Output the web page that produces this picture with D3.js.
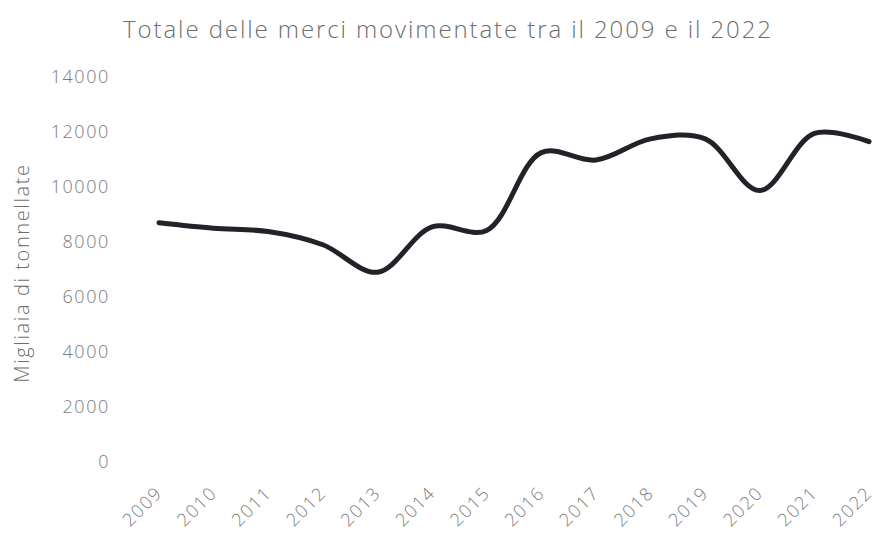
<!DOCTYPE html>
<html>
<head>
<meta charset="utf-8">
<script src="https://cdn.jsdelivr.net/npm/d3@7"></script>
<style>
  html, body { margin: 0; padding: 0; background: #fff; }
  svg { display: block; font-family: "Open Sans", "Noto Sans", sans-serif; }
</style>
</head>
<body>
<svg id="chart" width="877" height="539"></svg>
<script>
// Goods handled per year (thousands of tonnes)
const years = ["2009", "2010", "2011", "2012", "2013", "2014", "2015",
               "2016", "2017", "2018", "2019", "2020", "2021", "2022"];
const tonnes = [8700, 8500, 8380, 7900, 6900, 8550, 8420,
                11250, 10980, 11750, 11750, 9870, 11950, 11650];
const yTicks = [0, 2000, 4000, 6000, 8000, 10000, 12000, 14000];

const titleText = "Totale delle merci movimentate tra il 2009 e il 2022";
const yLabelText = "Migliaia di tonnellate";

const svg = d3.select("#chart");

const x = d3.scalePoint().domain(years).range([159, 869]);
const y = d3.scaleLinear().domain([0, 14000]).range([462, 77]);

// Title
svg.append("text")
  .attr("x", 448).attr("y", 38)
  .attr("text-anchor", "middle")
  .attr("font-size", 24).attr("font-weight", 300)
  .attr("letter-spacing", 1.9)
  .attr("fill", "#6e6e6e")
  .text(titleText);

// Y axis (labels only)
const yAxis = svg.append("g")
  .attr("transform", "translate(110,0)")
  .call(d3.axisLeft(y).tickValues(yTicks).tickSize(0).tickPadding(0).tickFormat(d3.format("d")));
yAxis.select(".domain").remove();
yAxis.selectAll("text")
  .attr("font-size", 18).attr("font-weight", 300)
  .attr("letter-spacing", 1.6)
  .attr("fill", "#7c7c7c")
  .attr("font-family", "'Open Sans', sans-serif");

// Y axis title
svg.append("text")
  .attr("transform", "translate(29,273) rotate(-90)")
  .attr("text-anchor", "middle")
  .attr("font-size", 20).attr("font-weight", 300)
  .attr("letter-spacing", 1.6)
  .attr("fill", "#6e6e6e")
  .text(yLabelText);

// X axis (rotated year labels)
const xAxis = svg.append("g")
  .attr("transform", "translate(0,494)")
  .call(d3.axisBottom(x).tickSize(0).tickPadding(0));
xAxis.select(".domain").remove();
xAxis.selectAll("text")
  .attr("font-size", 18).attr("font-weight", 300)
  .attr("letter-spacing", 1.6)
  .attr("fill", "#7c7c7c")
  .attr("font-family", "'Open Sans', sans-serif")
  .attr("text-anchor", "end")
  .attr("y", 0)
  .attr("dy", 0)
  .attr("transform", "translate(4,0) rotate(-45)");

// Smoothed line
const line = d3.line()
  .x((d, i) => x(years[i]))
  .y(d => y(d))
  .curve(d3.curveCatmullRom.alpha(0.5));

svg.append("path")
  .datum(tonnes)
  .attr("d", line)
  .attr("fill", "none")
  .attr("stroke", "#222228")
  .attr("stroke-width", 5)
  .attr("stroke-linecap", "round")
  .attr("stroke-linejoin", "round");
</script>
</body>
</html>
